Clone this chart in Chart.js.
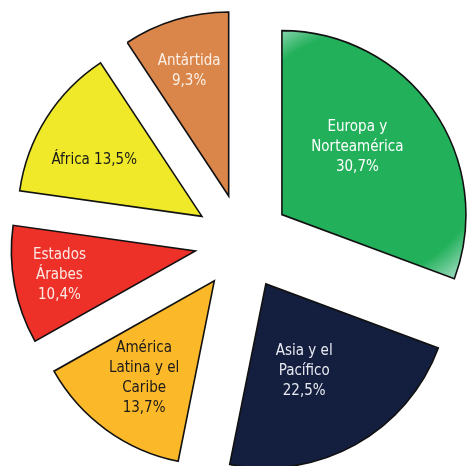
<!DOCTYPE html>
<html><head><meta charset="utf-8">
<script src="https://cdn.jsdelivr.net/npm/chart.js@4"></script>
<style>html,body{margin:0;padding:0;background:#fff}#wrap{width:468px;height:466px}</style>
</head><body><div id="wrap"><canvas id="c" width="468" height="466"></canvas></div>
<script>
const categories = ['Europa y\nNorteamérica','Asia y el\nPacífico','América\nLatina y el\nCaribe','Estados\nÁrabes','África','Antártida'];
const values = [30.7, 22.5, 13.7, 10.4, 13.5, 9.3];
const colors = ['#22b05a','#141f40','#fbb829','#ee3128','#efe92a','#da854a'];
const textColors = ['#ffffff','#e8eaf0','#1a1a1a','#fde8e4','#1a1a1a','#fbf0e6'];
const inlineLabel = [false,false,false,false,true,false];
// label layout: fraction of radius from exploded apex, angular shift (deg)
const labelFrac = [0.55,0.52,0.65,0.75,0.66,0.71];
const labelShift = [-7,5.5,0,0.7,-4.8,-0.9];
const EXPLODE = 48;
const RADIUS = 184;

const ArcEl = Chart.ArcElement || Chart.elements.ArcElement;
const baseDraw = ArcEl.prototype.draw;
ArcEl.prototype.draw = function(ctx){
  const mid = (this.startAngle + this.endAngle) / 2;
  ctx.save();
  ctx.translate(Math.cos(mid) * EXPLODE, Math.sin(mid) * EXPLODE);
  baseDraw.call(this, ctx);
  ctx.restore();
};

function sliceBg(c){
  const i = c.dataIndex;
  const chart = c.chart;
  const area = chart.chartArea;
  if (i !== 0 || !area) return colors[i];
  const cx = (area.left + area.right) / 2, cy = (area.top + area.bottom) / 2;
  const total = values.reduce((a,b)=>a+b,0);
  const mid = -Math.PI/2 + Math.PI * values[0] / total - 1.6*Math.PI/180;
  const gx = cx + Math.cos(mid) * RADIUS * 0.54;
  const gy = cy + Math.sin(mid) * RADIUS * 0.54;
  const g = chart.ctx.createRadialGradient(gx, gy, 0, gx, gy, 166);
  g.addColorStop(0, colors[0]);
  g.addColorStop(0.74, colors[0]);
  g.addColorStop(1, '#cdece6');
  return g;
}

const labelPlugin = {
  id: 'sliceLabels',
  afterDatasetsDraw(chart){
    const ctx = chart.ctx;
    const meta = chart.getDatasetMeta(0);
    ctx.save();
    ctx.font = '15px "DejaVu Sans Condensed", "DejaVu Sans", sans-serif';
    ctx.textAlign = 'center';
    ctx.textBaseline = 'middle';
    meta.data.forEach((arc, i) => {
      const p = arc.getProps(['x','y','startAngle','endAngle','outerRadius'], true);
      const mid = (p.startAngle + p.endAngle) / 2;
      const ax = p.x + Math.cos(mid) * EXPLODE, ay = p.y + Math.sin(mid) * EXPLODE;
      const a = mid + labelShift[i] * Math.PI / 180;
      const d = p.outerRadius * labelFrac[i];
      const lx = ax + Math.cos(a) * d, ly = ay + Math.sin(a) * d;
      const pct = values[i].toFixed(1).replace('.', ',') + '%';
      const lines = inlineLabel[i] ? [categories[i] + ' ' + pct] : [...categories[i].split('\n'), pct];
      ctx.fillStyle = textColors[i];
      const lh = 20;
      const y0 = ly - (lines.length - 1) * lh / 2;
      lines.forEach((t, k) => ctx.fillText(t, lx, y0 + k * lh));
    });
    ctx.restore();
  }
};

new Chart(document.getElementById('c'), {
  type: 'pie',
  data: {
    labels: categories,
    datasets: [{
      data: values,
      backgroundColor: sliceBg,
      borderColor: '#111111',
      borderWidth: 1.6,
      borderJoinStyle: 'miter',
      radius: RADIUS,
      offset: 0
    }]
  },
  options: {
    responsive: false,
    animation: false,
    events: [],
    layout: { padding: { left: 17, right: 0, top: 18, bottom: 0 } },
    plugins: { legend: { display: false }, tooltip: { enabled: false } }
  },
  plugins: [labelPlugin]
});
</script>
</body></html>
